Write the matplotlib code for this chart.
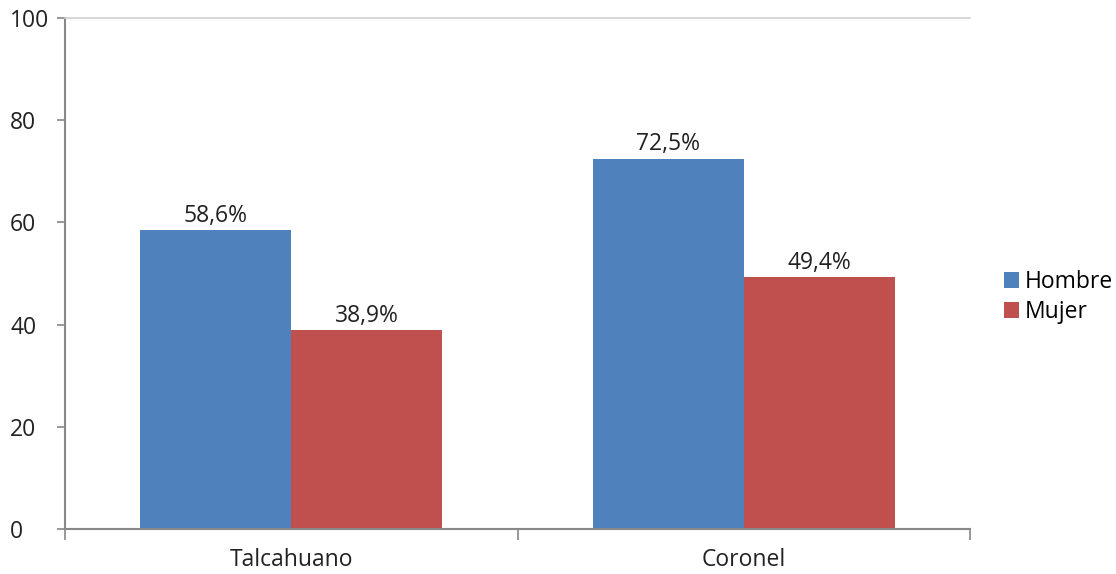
import numpy as np
import matplotlib.pyplot as plt

plt.rcParams['font.family'] = ['Open Sans', 'DejaVu Sans']

categories = ['Talcahuano', 'Coronel']
hombre = [58.6, 72.5]
mujer = [38.9, 49.4]
series_names = ['Hombre', 'Mujer']
colors = ['#4F81BD', '#C0504D']

fig = plt.figure(figsize=(11.16, 5.74), dpi=100)
ax = fig.add_axes([65/1116, 1 - 529/574, (970 - 65)/1116, (529 - 18)/574])

x = np.arange(len(categories))
w = 1/3
b1 = ax.bar(x - w/2, hombre, w, color=colors[0], label=series_names[0])
b2 = ax.bar(x + w/2, mujer, w, color=colors[1], label=series_names[1])

for bars, vals in [(b1, hombre), (b2, mujer)]:
    for r, v in zip(bars, vals):
        ax.text(r.get_x() + r.get_width()/2, v + 0.4, f'{v:.1f}'.replace('.', ',') + '%',
                ha='center', va='bottom', fontsize=16.5, color='#222222')

ax.set_xlim(-0.5, 1.5)
ax.set_ylim(0, 100)
ax.set_yticks([0, 20, 40, 60, 80, 100])
ax.tick_params(axis='y', direction='out', length=6, width=1.2, color='#888888',
               labelsize=16.5, labelcolor='#222222', pad=33.5)
for lab in ax.get_yticklabels():
    lab.set_horizontalalignment('left')
ax.set_xticks(x)
ax.set_xticklabels(categories)
ax.tick_params(axis='x', which='major', length=0, labelsize=16.5, labelcolor='#222222', pad=14)
ax.set_xticks([-0.5, 0.5, 1.5], minor=True)
ax.tick_params(axis='x', which='minor', direction='out', length=8, width=1.2, color='#888888')

for s in ['left', 'bottom']:
    ax.spines[s].set_color('#888888')
    ax.spines[s].set_linewidth(1.5)
ax.spines['right'].set_visible(False)
ax.spines['top'].set_color('#d0d0d0')
ax.spines['top'].set_linewidth(1.2)

fig.legend(loc='center left', bbox_to_anchor=(995/1116, 1 - 297/574), frameon=False,
           fontsize=16.5, handlelength=0.65, handleheight=0.7, handletextpad=0.25,
           labelspacing=0.3, borderaxespad=0)

fig.savefig('out.png', dpi=100)
